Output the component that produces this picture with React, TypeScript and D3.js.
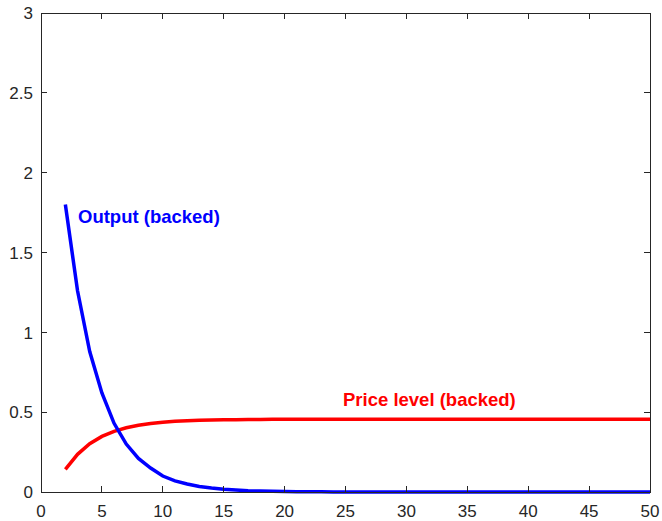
import React from "react";
import * as d3 from "d3";

const periods = d3.range(2, 51);
const outputValues = [
  1.80, 1.26, 0.88, 0.62, 0.43, 0.30, 0.21, 0.15, 0.10, 0.07,
  0.05, 0.035, 0.025, 0.017, 0.012, 0.008, 0.006, 0.004, 0.003, 0.002,
  0.0015, 0.001, 0.0007, 0.0005, 0.0003, 0.0002, 0.0001, 0.0001, 0, 0,
  0, 0, 0, 0, 0, 0, 0, 0, 0, 0,
  0, 0, 0, 0, 0, 0, 0, 0, 0,
];
const priceValues = [
  0.142, 0.236, 0.302, 0.348, 0.380, 0.402, 0.418, 0.429, 0.437, 0.443,
  0.447, 0.449, 0.451, 0.452, 0.453, 0.454, 0.454, 0.455, 0.455, 0.455,
  0.455, 0.455, 0.455, 0.455, 0.455, 0.455, 0.455, 0.455, 0.455, 0.455,
  0.455, 0.455, 0.455, 0.455, 0.455, 0.455, 0.455, 0.455, 0.455, 0.455,
  0.455, 0.455, 0.455, 0.455, 0.455, 0.455, 0.455, 0.455, 0.455,
];
const xTicks = [0, 5, 10, 15, 20, 25, 30, 35, 40, 45, 50];
const yTicks = [0, 0.5, 1, 1.5, 2, 2.5, 3];
const yTickLabels = ["0", "0.5", "1", "1.5", "2", "2.5", "3"];

const W = 662;
const H = 521;
const left = 41;
const right = 650;
const top = 13;
const bottom = 492;

export default function App() {
  const x = d3.scaleLinear().domain([0, 50]).range([left, right]);
  const y = d3.scaleLinear().domain([0, 3]).range([bottom, top]);
  const line = d3
    .line<[number, number]>()
    .x((d) => x(d[0]))
    .y((d) => y(d[1]));
  const outPts = periods.map((p, i) => [p, outputValues[i]] as [number, number]);
  const pricePts = periods.map((p, i) => [p, priceValues[i]] as [number, number]);
  const axisColor = "#262626";
  const font = "Liberation Sans, Arial, sans-serif";
  return (
    <svg
      width={W}
      height={H}
      style={{ position: "absolute", left: 0, top: 0, background: "#fff" }}
    >
      <rect x={0} y={0} width={W} height={H} fill="#fff" />
      <path d={line(pricePts) || ""} fill="none" stroke="#ff0000" strokeWidth={3.5} />
      <path d={line(outPts) || ""} fill="none" stroke="#0000ff" strokeWidth={3.5} />
      <rect
        x={left}
        y={top}
        width={right - left}
        height={bottom - top}
        fill="none"
        stroke={axisColor}
        strokeWidth={1}
        shapeRendering="crispEdges"
      />
      {xTicks.map((t) => (
        <g key={"x" + t}>
          <line x1={x(t)} x2={x(t)} y1={bottom} y2={bottom - 6} stroke={axisColor} shapeRendering="crispEdges" />
          <line x1={x(t)} x2={x(t)} y1={top} y2={top + 6} stroke={axisColor} shapeRendering="crispEdges" />
          <text
            x={x(t)}
            y={517}
            textAnchor="middle"
            fontFamily={font}
            fontSize={17}
            fill={axisColor}
          >
            {t}
          </text>
        </g>
      ))}
      {yTicks.map((t, i) => (
        <g key={"y" + t}>
          <line x1={left} x2={left + 6} y1={y(t)} y2={y(t)} stroke={axisColor} shapeRendering="crispEdges" />
          <line x1={right} x2={right - 6} y1={y(t)} y2={y(t)} stroke={axisColor} shapeRendering="crispEdges" />
          <text
            x={left - 8}
            y={y(t) + 6.2}
            textAnchor="end"
            fontFamily={font}
            fontSize={17}
            fill={axisColor}
          >
            {yTickLabels[i]}
          </text>
        </g>
      ))}
      <text x={78} y={223} fontFamily={font} fontSize={18.5} fontWeight="bold" fill="#0000ff">
        Output (backed)
      </text>
      <text x={343} y={406} fontFamily={font} fontSize={18.5} fontWeight="bold" fill="#ff0000">
        Price level (backed)
      </text>
    </svg>
  );
}
